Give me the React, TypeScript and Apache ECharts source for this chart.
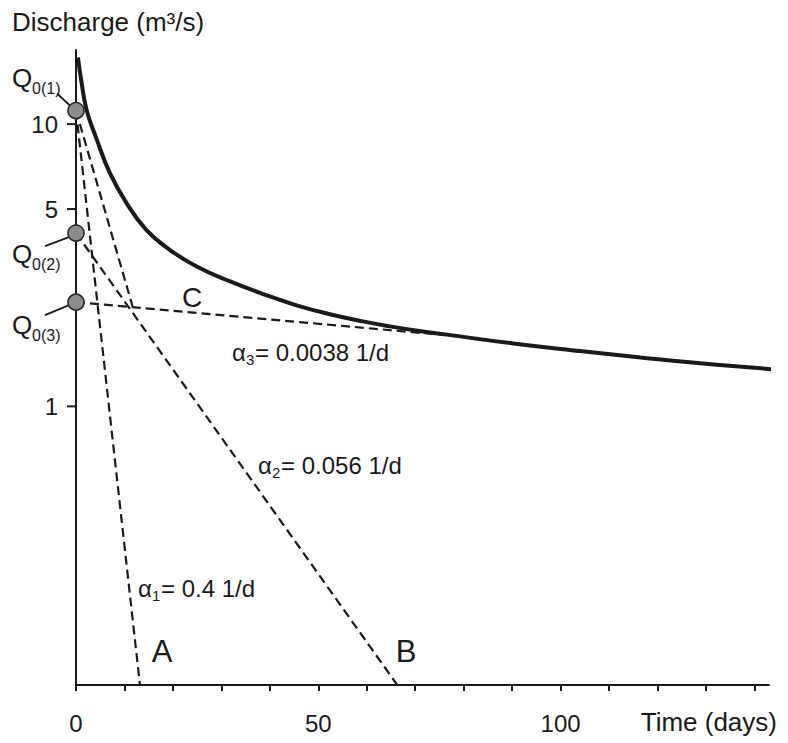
import React, { useEffect, useRef } from "react";
import * as echarts from "echarts";

const FONT = '"Liberation Sans", Arial, Helvetica, sans-serif';
const INK = "#1a1a1a";

// ---- data ----
const timeTicks = [0, 10, 20, 30, 40, 50, 60, 70, 80, 90, 100, 110, 120, 130, 140];
const timeLabels = [0, 50, 100];
const dischargeTicks = [1, 5, 10];
const X_MAX = 143;
const Y_MIN = 0.103;
const Y_MAX = 18.3;

// total recession hydrograph (days, m3/s)
const hydrograph: [number, number][] = [
  [0.4, 17.2], [1.1, 14.2], [2.2, 11.2], [4.2, 8.9], [7.0, 6.7], [10.4, 5.26],
  [14.5, 4.22], [19.4, 3.58], [24.9, 3.13], [31.8, 2.77], [38.6, 2.5],
  [45.5, 2.28], [52.4, 2.12], [59.2, 2.0], [64.8, 1.92], [70.5, 1.853],
  [76.5, 1.795], [90.2, 1.67], [104, 1.57], [116.5, 1.49], [128.9, 1.42], [144.4, 1.35],
];

// initial discharges of the three reservoirs
const q0Values = [11.17, 4.11, 2.34];
const q0Subs = ["0(1)", "0(2)", "0(3)"];

// recession lines (start, end)
const lineA: [number, number][] = [[0, 11.17], [13.2, Y_MIN]];
const lineD: [number, number][] = [[0, 11.17], [11.8, 2.22]];
const lineB: [number, number][] = [[0, 4.11], [66.3, Y_MIN]];
const lineC: [number, number][] = [[0, 2.34], [76, 1.79]];

const alphaSubs = ["1", "2", "3"];
const alphaTexts = ["= 0.4 1/d", "= 0.056 1/d", "= 0.0038 1/d"];
const letters = ["A", "B", "C"];

export default function App() {
  const ref = useRef<HTMLDivElement>(null);

  useEffect(() => {
    if (!ref.current) return;
    const chart = echarts.init(ref.current, undefined, { renderer: "svg" });

    const dashed = (data: [number, number][]) => ({
      type: "line",
      data,
      symbol: "none",
      silent: true,
      clip: false,
      z: 3,
      lineStyle: { color: INK, width: 2.2, type: [9, 5] },
    });

    const alphaPos = [
      [138, 588],
      [258, 465],
      [232, 352],
    ];
    const letterPos = [
      [162, 651, 31],
      [406, 651, 31],
      [192, 297, 28],
    ];

    const graphics: any[] = [
      {
        type: "text",
        x: 12,
        y: 22,
        style: { text: "Discharge (m³/s)", font: `26px ${FONT}`, fill: INK, align: "left", verticalAlign: "middle" },
      },
      {
        type: "text",
        x: 777,
        y: 722,
        style: { text: "Time (days)", font: `26px ${FONT}`, fill: INK, align: "right", verticalAlign: "middle" },
      },
    ];
    alphaSubs.forEach((s, i) => {
      const [x, y] = alphaPos[i];
      graphics.push({
        type: "group",
        children: [
          { type: "text", x, y, style: { text: "α", font: `24px ${FONT}`, fill: INK, align: "left", verticalAlign: "middle" } },
          { type: "text", x: x + 14, y: y + 7, style: { text: s, font: `15px ${FONT}`, fill: INK, align: "left", verticalAlign: "middle" } },
          { type: "text", x: x + 23, y, style: { text: alphaTexts[i], font: `24px ${FONT}`, fill: INK, align: "left", verticalAlign: "middle" } },
        ],
      });
    });
    letters.forEach((l, i) => {
      const [x, y, fs] = letterPos[i];
      graphics.push({
        type: "text",
        x,
        y,
        style: { text: l, font: `${fs}px ${FONT}`, fill: INK, align: "center", verticalAlign: "middle" },
      });
    });

    const qLayout = [
      { qx: -64, qy: -33, sy: -22, l: [-19, -17, -5, -4] },
      { qx: -64, qy: 21, sy: 31, l: [-31, 13, -7, 4] },
      { qx: -64, qy: 23, sy: 33, l: [-31, 13, -7, 3] },
    ];

    chart.setOption({
      animation: false,
      backgroundColor: "#ffffff",
      grid: { left: 76, right: 19, top: 50, bottom: 58, containLabel: false, outerBoundsMode: "none" },
      xAxis: {
        type: "value",
        min: 0,
        max: X_MAX,
        axisLine: { show: true, onZero: false, lineStyle: { color: INK, width: 2 } },
        axisTick: { show: true, customValues: timeTicks, length: 6, inside: false, lineStyle: { color: INK, width: 2 } },
        axisLabel: {
          show: true,
          customValues: timeLabels,
          margin: 26,
          color: INK,
          fontSize: 24,
          fontFamily: FONT,
        },
        splitLine: { show: false },
      },
      yAxis: {
        type: "log",
        logBase: 10,
        min: Y_MIN,
        max: Y_MAX,
        axisLine: { show: true, onZero: false, lineStyle: { color: INK, width: 2 } },
        axisTick: { show: false },
        axisLabel: { show: false },
        splitLine: { show: false },
        minorTick: { show: false },
      },
      graphic: graphics,
      series: [
        {
          type: "custom",
          coordinateSystem: "cartesian2d",
          clip: false,
          silent: true,
          z: 2,
          data: dischargeTicks.map((v) => [0, v]),
          renderItem: (params: any, api: any) => {
            const p = api.coord([api.value(0), api.value(1)]);
            return {
              type: "group",
              children: [
                { type: "line", shape: { x1: p[0] - 9, y1: p[1], x2: p[0], y2: p[1] }, style: { stroke: INK, lineWidth: 2 } },
                {
                  type: "text",
                  x: p[0] - 18,
                  y: p[1],
                  style: { text: String(api.value(1)), font: `24px ${FONT}`, fill: INK, align: "right", verticalAlign: "middle" },
                },
              ],
            };
          },
        },
        dashed(lineA),
        dashed(lineD),
        dashed(lineB),
        dashed(lineC),
        {
          type: "line",
          data: hydrograph,
          symbol: "none",
          smooth: 0.45,
          clip: false,
          silent: true,
          z: 4,
          lineStyle: { color: INK, width: 4 },
        },
        {
          type: "custom",
          coordinateSystem: "cartesian2d",
          clip: false,
          silent: true,
          z: 5,
          data: q0Values.map((v) => [0, v]),
          renderItem: (params: any, api: any) => {
            const p = api.coord([api.value(0), api.value(1)]);
            const L = qLayout[params.dataIndex];
            return {
              type: "group",
              children: [
                {
                  type: "line",
                  shape: { x1: p[0] + L.l[0], y1: p[1] + L.l[1], x2: p[0] + L.l[2], y2: p[1] + L.l[3] },
                  style: { stroke: INK, lineWidth: 1.8 },
                },
                {
                  type: "text",
                  x: p[0] + L.qx,
                  y: p[1] + L.qy,
                  style: { text: "Q", font: `26px ${FONT}`, fill: INK, align: "left", verticalAlign: "middle" },
                },
                {
                  type: "text",
                  x: p[0] + L.qx + 20,
                  y: p[1] + L.sy,
                  style: { text: q0Subs[params.dataIndex], font: `16px ${FONT}`, fill: INK, align: "left", verticalAlign: "middle" },
                },
              ],
            };
          },
        },
        {
          type: "scatter",
          data: q0Values.map((v) => [0, v]),
          symbol: "circle",
          symbolSize: 16,
          clip: false,
          silent: true,
          z: 6,
          itemStyle: { color: "#8c8c8c", borderColor: "#2a2a2a", borderWidth: 1.6, opacity: 1 },
        },
      ],
    });

    return () => chart.dispose();
  }, []);

  return (
    <div
      ref={ref}
      style={{ position: "fixed", left: 0, top: 0, width: 788, height: 743, background: "#fff" }}
    />
  );
}
